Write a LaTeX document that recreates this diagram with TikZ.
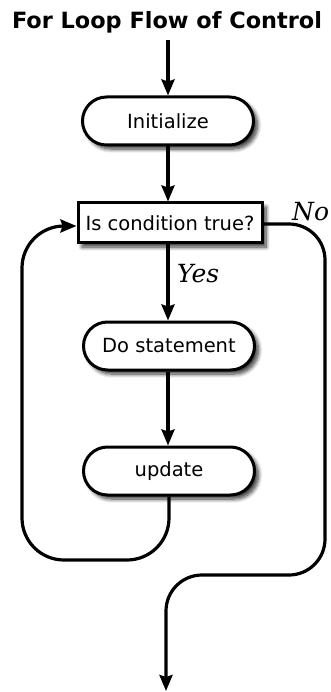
\documentclass[tikz,border=0pt]{standalone}
\usepackage{fontspec}
\setmainfont{DejaVu Sans}
\newfontfamily\labelfont{DejaVu Serif}
\usetikzlibrary{arrows.meta,shapes.misc,shadows.blur}
\begin{document}
\begin{tikzpicture}[x=1pt,y=-1pt,
  flow/.style={line width=3.2pt,-{Stealth[length=16pt,width=13pt,inset=2pt]}},
  stadium/.style={rounded rectangle,draw,line width=3pt,fill=white,minimum width=171pt,minimum height=48pt,inner sep=0pt,font=\fontsize{19.5}{22}\selectfont,
    blur shadow={shadow xshift=4pt,shadow yshift=-4pt,shadow blur steps=8,shadow blur radius=4pt,shadow opacity=80}},
  decision/.style={rectangle,draw,line width=3pt,fill=white,minimum width=184pt,minimum height=40pt,inner sep=0pt,font=\fontsize{19.5}{22}\selectfont,
    blur shadow={shadow xshift=4pt,shadow yshift=-4pt,shadow blur steps=8,shadow blur radius=4pt,shadow opacity=80}},
  lab/.style={font=\labelfont\itshape\fontsize{25}{28}\selectfont,inner sep=0pt}]
\useasboundingbox (0,0) rectangle (331,692);
\node[font=\bfseries\fontsize{22.4}{26}\selectfont] (title) at (167,22) {For Loop Flow of Control};
\coordinate (start) at (168,40);
\node[stadium] (init) at (168,121) {Initialize};
\node[decision] (cond) at (170,223) {Is condition true?};
\node[stadium] (do) at (169,346) {Do statement};
\node[stadium] (upd) at (169,471) {update};
\coordinate (end) at (166,691);
\node[lab,anchor=west] (no) at (292,212) {No};
\node[lab,anchor=west] (yes) at (177,274) {Yes};
\draw[flow] (start) -- (init.north);
\draw[flow] (init.south) -- (init.south |- cond.north);
\draw[flow] (init.south |- cond.south) -- (init.south |- do.north);
\draw[flow] (init.south |- do.south) -- (init.south |- upd.north);
\draw[flow,rounded corners=42pt] (upd.south) -- (169,560) -- (22,560) -- (22,226) -- (cond.west |- 0,226);
\draw[flow,rounded corners=36pt] (cond.east |- 0,224) -- (325,224) -- (325,575) -- (166,575) -- (end);
\end{tikzpicture}
\end{document}
